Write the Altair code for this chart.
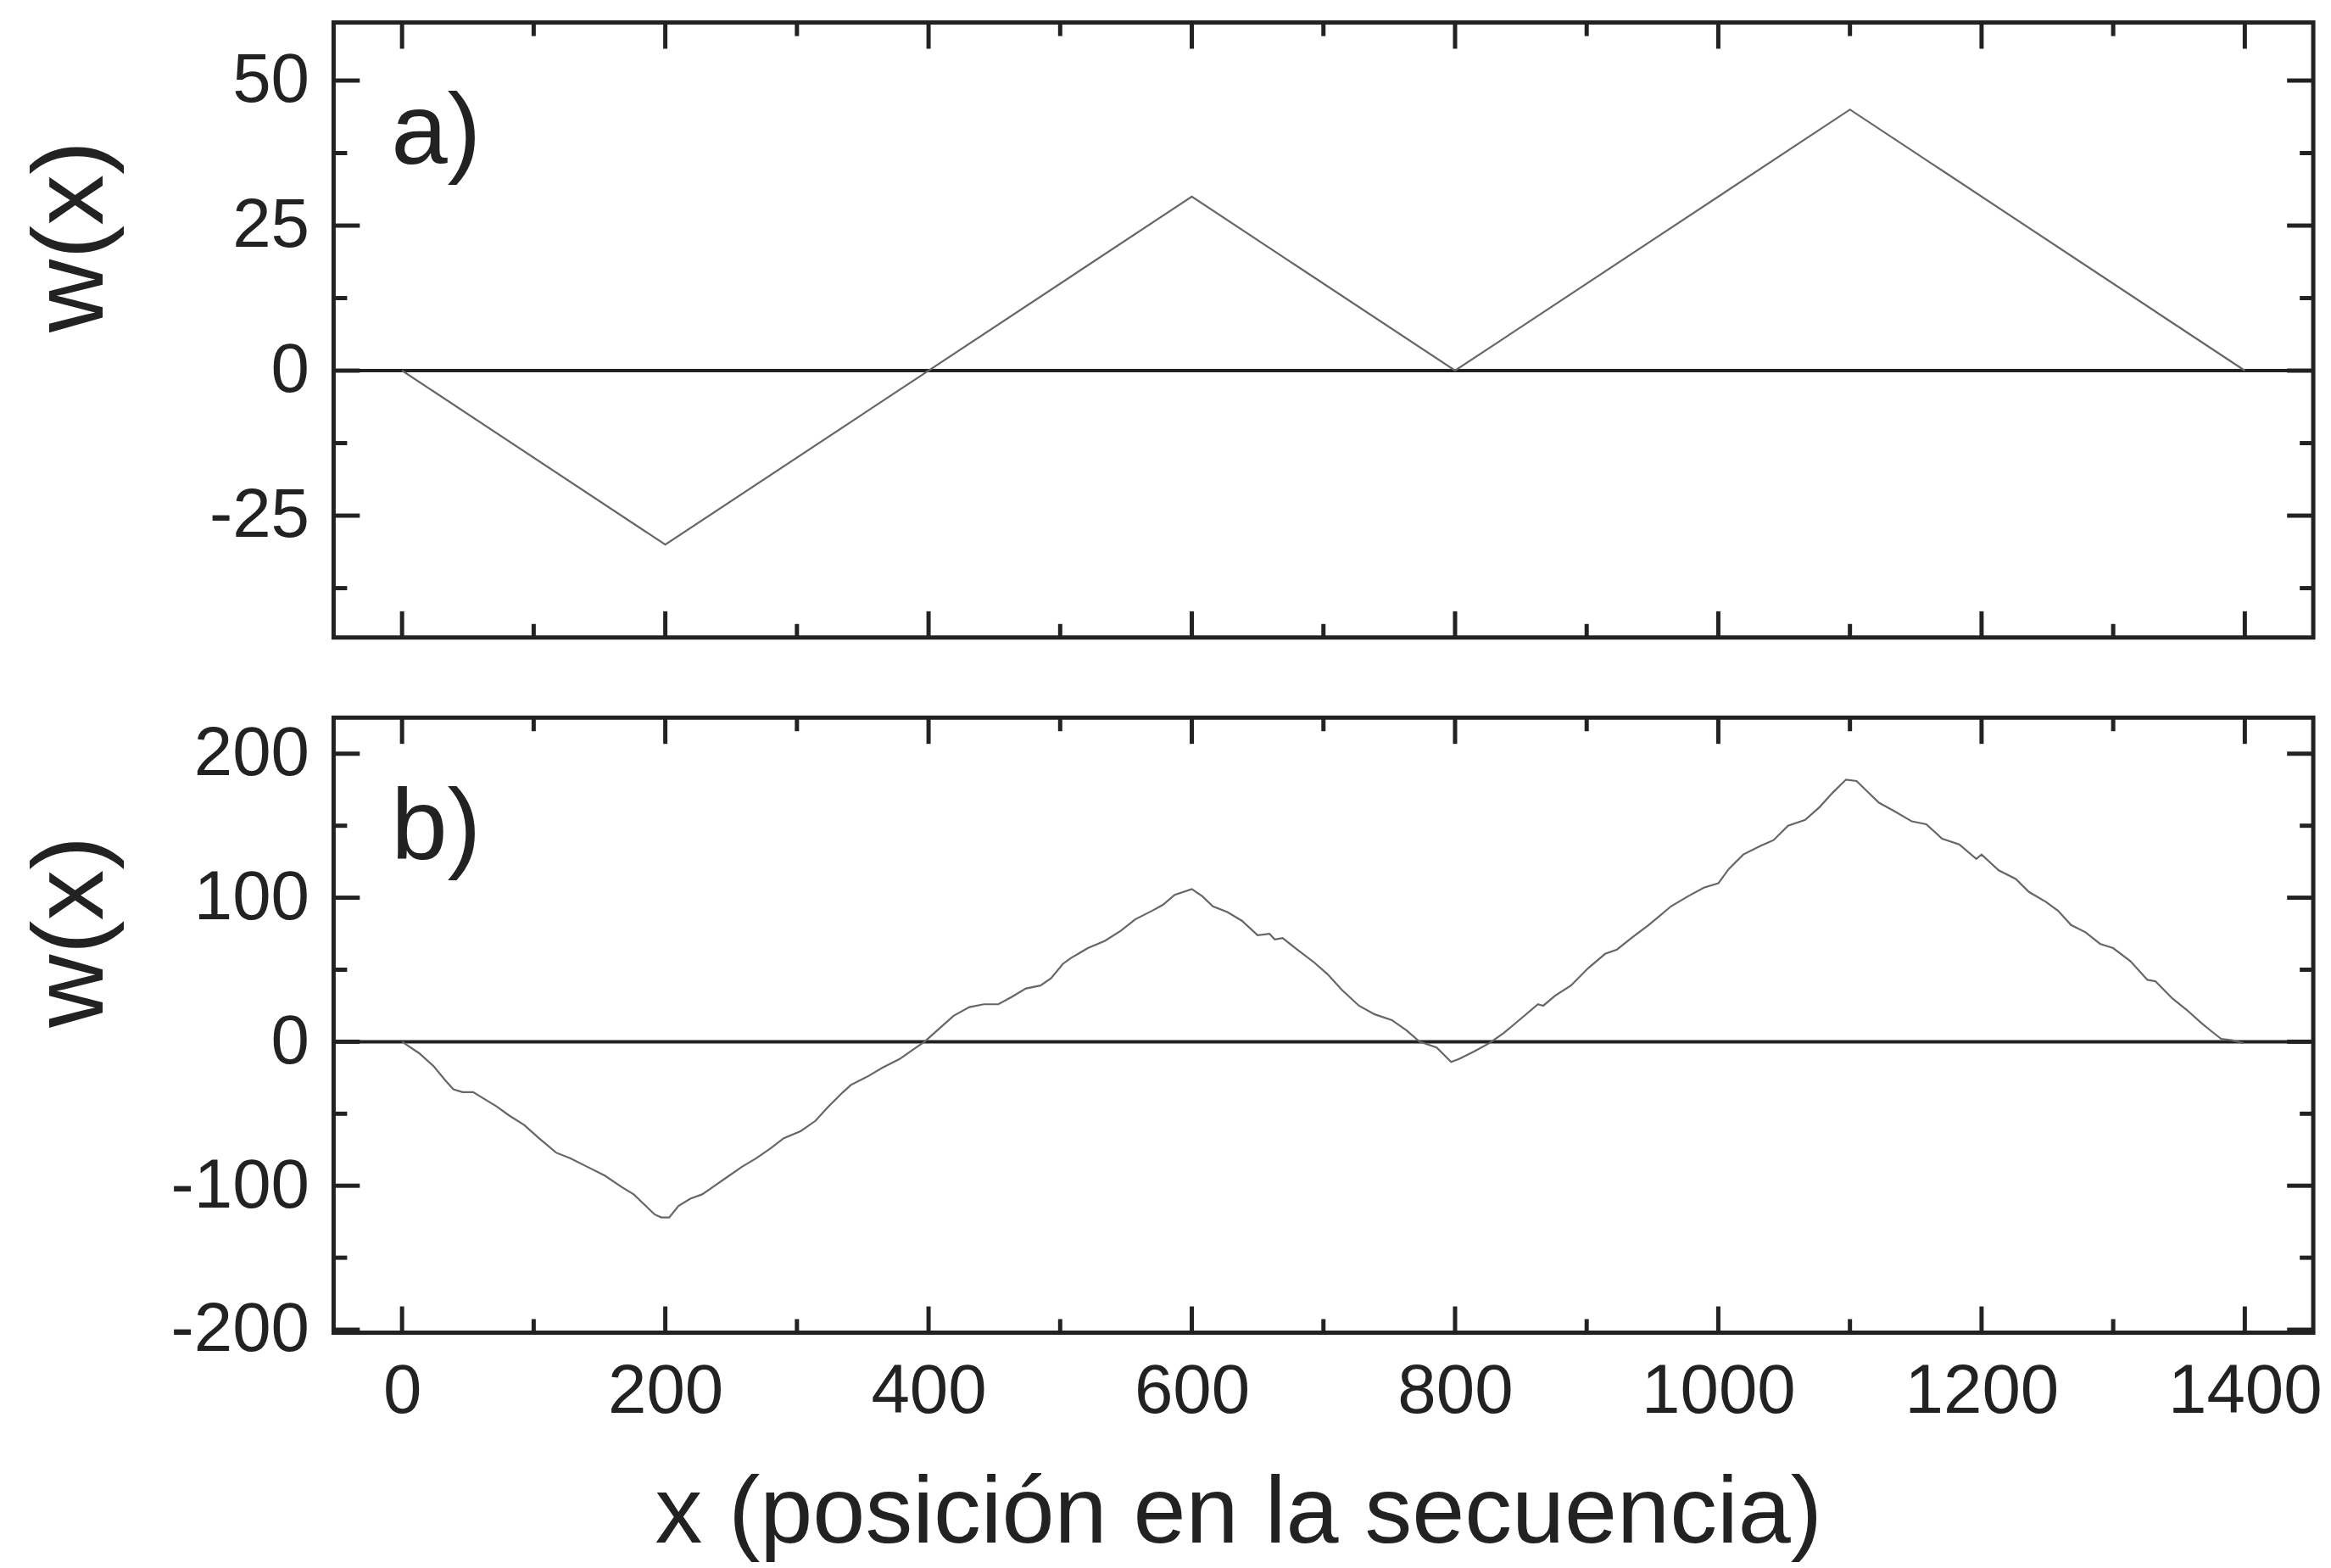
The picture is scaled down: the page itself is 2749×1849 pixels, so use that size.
import altair as alt
import pandas as pd

# ---- data -------------------------------------------------------------
# a) idealised skew profile: vertices of the piecewise-linear walk
pos_a = [0, 200, 600, 800, 1100, 1400]
w_a = [0, -30, 30, 0, 45, 0]

# b) cumulative skew measured along the sequence
pos_b = [0, 13, 24, 33, 39, 46, 54, 63, 72, 81,
         93, 104, 117, 128, 141, 154, 167, 176, 184, 192,
         197, 203, 210, 219, 228, 236, 247, 258, 269, 280,
         290, 303, 314, 324, 335, 341, 354, 365, 378, 389,
         397, 408, 419, 431, 442, 453, 463, 474, 485, 493,
         502, 508, 521, 534, 546, 557, 570, 578, 587, 600,
         608, 616, 627, 638, 650, 659, 663, 669, 680, 693,
         703, 714, 727, 739, 752, 763, 773, 786, 797, 803,
         814, 826, 837, 850, 863, 867, 876, 888, 901, 914,
         923, 934, 947, 955, 964, 977, 989, 1000, 1008, 1019,
         1032, 1042, 1053, 1066, 1077, 1087, 1097, 1105, 1113, 1122,
         1134, 1147, 1158, 1170, 1183, 1196, 1200, 1213, 1226, 1236,
         1249, 1258, 1268, 1279, 1290, 1300, 1313, 1326, 1332, 1345,
         1356, 1367, 1375, 1382, 1390, 1399]
w_b = [0, -8, -17, -27, -33, -35, -35, -40, -45, -51,
       -58, -67, -77, -81, -87, -93, -101, -106, -113, -120,
       -122, -122, -114, -109, -106, -101, -94, -87, -81, -74,
       -67, -62, -55, -45, -35, -30, -24, -18, -12, -5,
       0, 9, 18, 24, 26, 26, 31, 37, 39, 44,
       54, 58, 65, 70, 77, 85, 91, 95, 102, 106,
       101, 94, 90, 84, 74, 75, 71, 72, 64, 55,
       47, 36, 25, 19, 15, 8, 0, -4, -14, -12,
       -7, -1, 6, 16, 26, 25, 32, 39, 51, 61,
       64, 72, 81, 87, 94, 101, 107, 110, 120, 130,
       136, 140, 150, 154, 163, 173, 182, 181, 174, 166,
       160, 153, 151, 141, 137, 127, 130, 119, 113, 104,
       97, 91, 81, 76, 68, 65, 56, 43, 42, 30,
       22, 13, 7, 2, 1, -1]

# tick positions
x_major = [0, 200, 400, 600, 800, 1000, 1200, 1400]
x_minor = [100, 300, 500, 700, 900, 1100, 1300]
ya_major = [-25, 0, 25, 50]
ya_minor = [-37.5, -12.5, 12.5, 37.5]
yb_major = [-200, -100, 0, 100, 200]
yb_minor = [-150, -50, 50, 150]

# ---- styling ----------------------------------------------------------
FONT = "Liberation Sans"
INK = "#222222"
LINE = "#666666"
W = 2344
MAJOR, MINOR = 31, 16
X_DOMAIN = [-52, 1452]
TICK_FS = 82


def panel(pos, w, y_domain, y_major, y_minor, height, label, bottom):
    xs = alt.Scale(domain=X_DOMAIN, nice=False, zero=False)
    ys = alt.Scale(domain=y_domain, nice=False, zero=False)
    if bottom:
        x_axis = alt.Axis(
            values=x_major, title="x (posición en la secuencia)",
            labelExpr="'' + datum.value", labelLimit=400,
            labelFontSize=TICK_FS, labelPadding=94, labelBaseline="alphabetic",
            labelFlush=False, labelOverlap=False,
            ticks=False, tickSize=0, domain=False, grid=False,
            titleFontSize=112, titleFontWeight="normal",
            titleX=1071, titleY=248, titleAlign="center",
            titleBaseline="alphabetic",
        )
    else:
        x_axis = None
    y_axis = alt.Axis(
        values=y_major, title="w(x)", labelExpr="'' + datum.value",
        labelFontSize=TICK_FS, labelPadding=29, labelFlush=False,
        labelOverlap=False, labelLimit=400,
        ticks=False, tickSize=0, domain=False, grid=False,
        titleFontSize=120, titleFontWeight="normal", titleAngle=270,
        titleX=-274, titleY=253, titleAlign="center",
        titleBaseline="alphabetic", minExtent=200, maxExtent=200,
    )

    def X(f="pos:Q"):
        return alt.X(f, scale=xs, axis=x_axis)

    def Y(f="w:Q"):
        return alt.Y(f, scale=ys, axis=y_axis)

    series = alt.Chart(pd.DataFrame({"pos": pos, "w": w})).mark_line(
        color=LINE, strokeWidth=2.2
    ).encode(x=X(), y=Y())

    zero = alt.Chart(pd.DataFrame({"w": [0]})).mark_rule(
        color=INK, strokeWidth=4
    ).encode(y=Y())

    layers = [zero, series]

    # inward ticks on all four sides
    for vals, length in ((x_major, MAJOR), (x_minor, MINOR)):
        df = pd.DataFrame({"pos": vals})
        layers.append(alt.Chart(df).mark_rule(color=INK, strokeWidth=5).encode(
            x=X(), y=alt.value(height), y2=alt.value(height - length)))
        layers.append(alt.Chart(df).mark_rule(color=INK, strokeWidth=5).encode(
            x=X(), y=alt.value(0), y2=alt.value(length)))
    for vals, length in ((y_major, MAJOR), (y_minor, MINOR)):
        df = pd.DataFrame({"w": vals})
        layers.append(alt.Chart(df).mark_rule(color=INK, strokeWidth=5).encode(
            y=Y(), x=alt.value(0), x2=alt.value(length)))
        layers.append(alt.Chart(df).mark_rule(color=INK, strokeWidth=5).encode(
            y=Y(), x=alt.value(W), x2=alt.value(W - length)))

    tag = alt.Chart(pd.DataFrame({"label": [label]})).mark_text(
        align="left", baseline="alphabetic", fontSize=120, color=INK,
        font=FONT,
    ).encode(x=alt.value(68), y=alt.value(167), text="label:N")
    layers.append(tag)

    return alt.layer(*layers).properties(width=W, height=height)


top = panel(pos_a, w_a, [-46, 60], ya_major, ya_minor, 728, "a)", False)
bottom = panel(pos_b, w_b, [-202, 225], yb_major, yb_minor, 728, "b)", True)

chart = alt.vconcat(top, bottom, spacing=85).properties(
    padding={"left": 22, "top": 18, "right": 8, "bottom": 5},
    background="white",
).configure_view(
    stroke=INK, strokeWidth=5
).configure_axis(
    labelFont=FONT, titleFont=FONT, labelColor=INK, titleColor=INK
).configure_text(font=FONT)

chart.save("out.html", embed_options={"renderer": "svg", "actions": False})
